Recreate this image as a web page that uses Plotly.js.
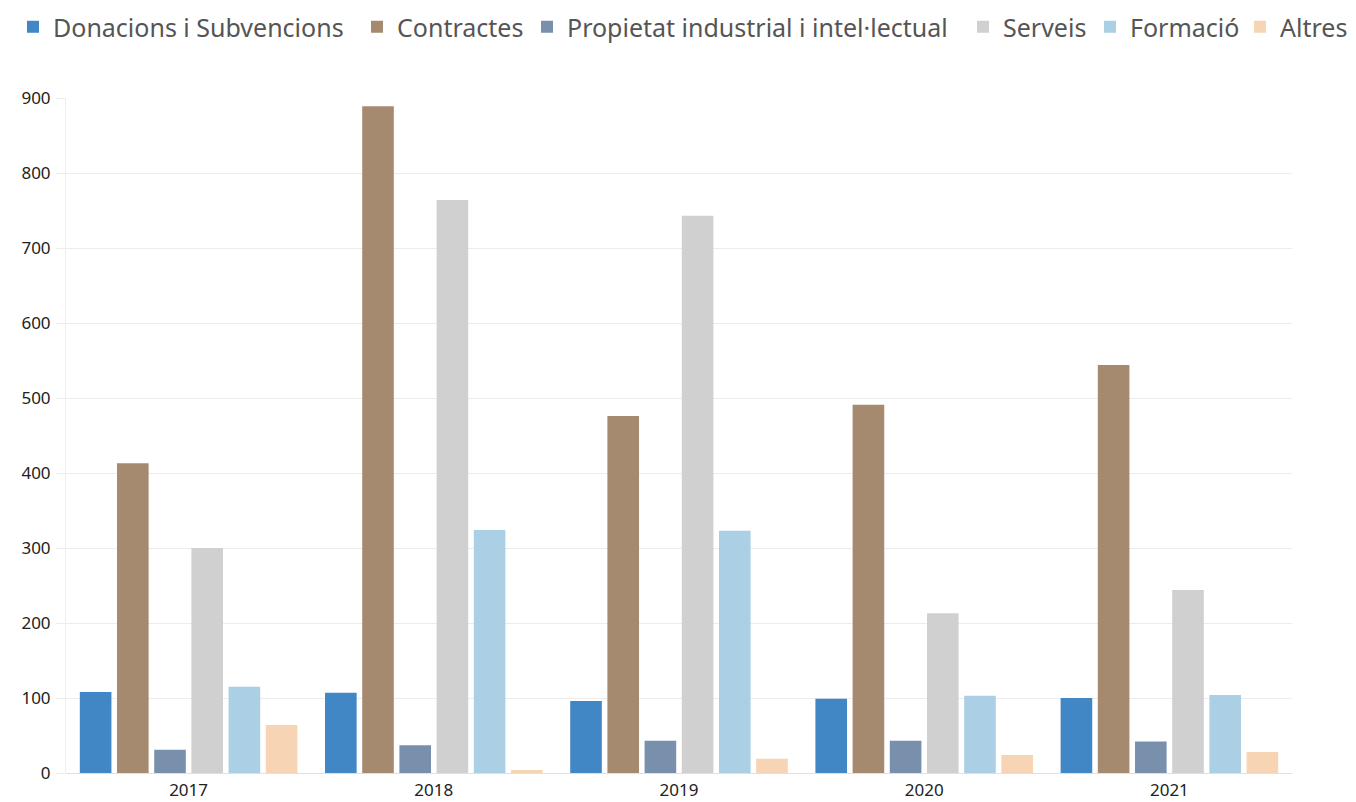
<!DOCTYPE html>
<html><head><meta charset="utf-8">
<script src="https://cdn.plot.ly/plotly-3.0.1.min.js"></script>
<style>body{margin:0;background:#fff}#chart{width:1356px;height:802px}</style>
</head><body><div id="chart"></div>
<script>
const years = ["2017","2018","2019","2020","2021"];
const seriesNames = ["Donacions i Subvencions","Contractes","Propietat industrial i intel·lectual","Serveis","Formació","Altres"];
const donacions = [108,107,96,99,100];
const contractes = [413,889,476,491,544];
const propietat = [31,37,43,43,42];
const serveis = [300,764,743,213,244];
const formacio = [115,324,323,103,104];
const altres = [64,4,19,24,28];
const colors = ["#4186c5","#a68a70","#7890ac","#d0d0d0","#abd0e5","#f6d4b4"];
const values = [donacions,contractes,propietat,serveis,formacio,altres];
const legendIds = ["legend","legend2","legend3","legend4","legend5","legend6"];
const legendX = [13,357,527,963,1090,1240];
const data = values.map((v,i)=>({type:"bar",x:years,y:v,name:seriesNames[i],legend:legendIds[i],marker:{color:colors[i]}}));
const layout = {
  width:1356,height:802,
  margin:{l:66,r:64,t:98,b:29},
  paper_bgcolor:"#fff",plot_bgcolor:"#fff",
  font:{family:"Noto Sans, sans-serif",color:"#333"},
  barmode:"group",bargap:0.09,bargroupgap:0.15,
  showlegend:true,
  xaxis:{type:"category",tickfont:{size:17,color:"#222"},showline:false,showgrid:false,ticks:"",ticklen:0,ticklabelstandoff:5},
  yaxis:{range:[0,900],dtick:100,tickfont:{size:17,color:"#222"},gridcolor:"#ececec",zeroline:true,zerolinecolor:"#e0e0e0",showline:true,linecolor:"#eeeeee",ticks:"outside",ticklen:9,tickcolor:"#ececec",ticklabelstandoff:2}
};
legendIds.forEach((id,i)=>{
  layout[id] = {orientation:"h",xref:"container",x:legendX[i]/1356,xanchor:"left",yref:"container",y:0.995,yanchor:"top",
    font:{size:25,color:"#555",family:"Noto Sans, sans-serif"},itemwidth:30,bgcolor:"rgba(0,0,0,0)"};
});
Plotly.newPlot("chart",data,layout,{displayModeBar:false});
</script></body></html>
